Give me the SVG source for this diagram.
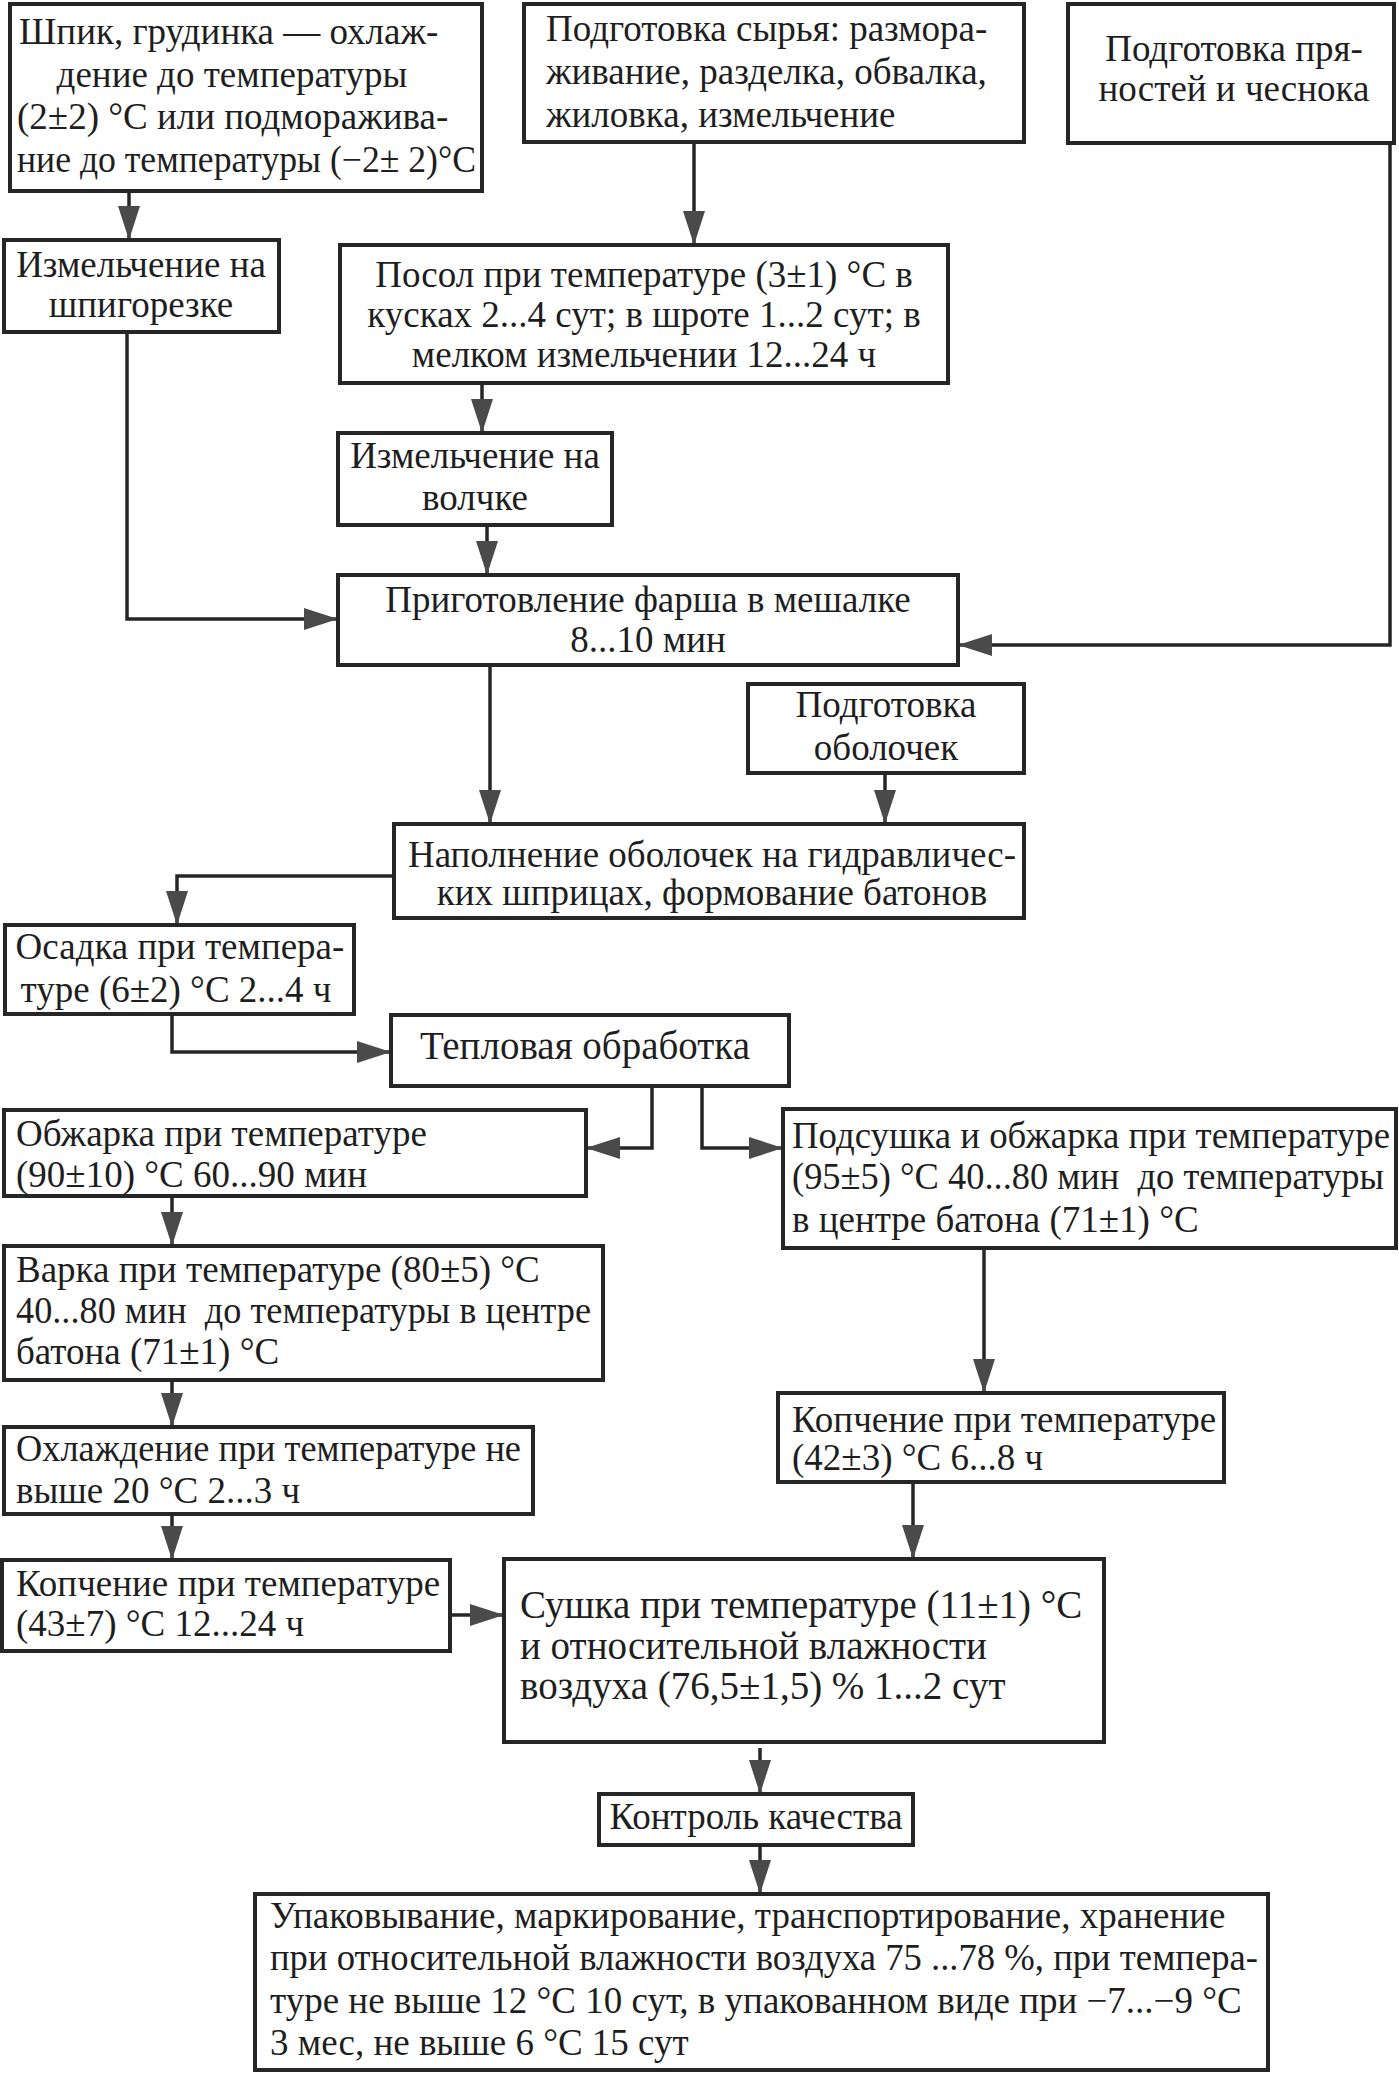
<svg xmlns="http://www.w3.org/2000/svg" width="1399" height="2074" viewBox="0 0 1399 2074">
<style>
.b{fill:#fff;stroke:#262626;stroke-width:4}
.t{font-family:"Liberation Serif","Times New Roman",serif;font-size:37px;fill:#1e1e1e}
.L{font-size:39px}
.m{text-anchor:middle}
.c{fill:none;stroke:#262626;stroke-width:3.5;marker-end:url(#ah)}
</style>
<defs>
<marker id="ah" markerUnits="userSpaceOnUse" viewBox="0 0 34 22" refX="34" refY="11" markerWidth="34" markerHeight="22" orient="auto">
<path d="M0,0 L34,11 L0,22 Z" fill="#4a4a4a"/>
</marker>
</defs>
<rect width="1399" height="2074" fill="#fff"/>
<g id="connectors">
<path class="c" d="M129,192 V240"/>
<path class="c" d="M694,142 V245"/>
<path class="c" d="M482,383 V433"/>
<path class="c" d="M487,525 V575"/>
<path class="c" d="M127,332 V619 H338"/>
<path class="c" d="M1390,143 V645 H958"/>
<path class="c" d="M490,665 V824"/>
<path class="c" d="M885,773 V824"/>
<path class="c" d="M394,876 H177 V925"/>
<path class="c" d="M172,1014 V1052 H391"/>
<path class="c" d="M652,1086 V1148 H586"/>
<path class="c" d="M702,1086 V1148 H783"/>
<path class="c" d="M172,1196 V1246"/>
<path class="c" d="M172,1380 V1427"/>
<path class="c" d="M172,1514 V1560"/>
<path class="c" d="M984,1248 V1393"/>
<path class="c" d="M913,1482 V1559"/>
<path class="c" d="M450,1615 H504"/>
<path class="c" d="M760,1748 V1794"/>
<path class="c" d="M760,1845 V1894"/>
</g>
<g id="nA"><rect class="b" x="10" y="4" width="472" height="187"/>
<text class="t" x="19" y="44">Шпик, грудинка — охлаж-</text>
<text class="t m" x="232" y="87">дение до температуры</text>
<text class="t" x="17" y="129">(2±2) °C или подморажива-</text>
<text class="t" x="17" y="172" textLength="459" lengthAdjust="spacingAndGlyphs">ние до температуры (−2± 2)°C</text></g>
<g id="nB"><rect class="b" x="524" y="4" width="500" height="138"/>
<text class="t" x="546" y="41">Подготовка сырья: размора-</text>
<text class="t" x="546" y="84">живание, разделка, обвалка,</text>
<text class="t" x="546" y="127">жиловка, измельчение</text></g>
<g id="nC"><rect class="b" x="1068" y="4" width="326" height="139"/>
<text class="t m" x="1234" y="61">Подготовка пря-</text>
<text class="t m" x="1234" y="101">ностей и чеснока</text></g>
<g id="nD"><rect class="b" x="4" y="240" width="275" height="92"/>
<text class="t m" x="141" y="277">Измельчение на</text>
<text class="t m" x="141" y="317">шпигорезке</text></g>
<g id="nE"><rect class="b" x="340" y="245" width="608" height="138"/>
<text class="t m" x="644" y="287">Посол при температуре (3±1) °C в</text>
<text class="t m" x="644" y="327">кусках 2...4 сут; в шроте 1...2 сут; в</text>
<text class="t m" x="644" y="367">мелком измельчении 12...24 ч</text></g>
<g id="nF"><rect class="b" x="338" y="433" width="274" height="92"/>
<text class="t m" x="475" y="468">Измельчение на</text>
<text class="t m" x="475" y="510">волчке</text></g>
<g id="nG"><rect class="b" x="338" y="575" width="620" height="90"/>
<text class="t m" x="648" y="612">Приготовление фарша в мешалке</text>
<text class="t m" x="648" y="652">8...10 мин</text></g>
<g id="nH"><rect class="b" x="748" y="684" width="276" height="89"/>
<text class="t m" x="886" y="717">Подготовка</text>
<text class="t m" x="886" y="760">оболочек</text></g>
<g id="nI"><rect class="b" x="394" y="824" width="630" height="94"/>
<text class="t m" x="712" y="867">Наполнение оболочек на гидравличес-</text>
<text class="t m" x="712" y="905">ких шприцах, формование батонов</text></g>
<g id="nJ"><rect class="b" x="5" y="925" width="349" height="89"/>
<text class="t m" x="180" y="959">Осадка при темпера-</text>
<text class="t m" x="176" y="1002">туре (6±2) °C 2...4 ч</text></g>
<g id="nK"><rect class="b" x="391" y="1015" width="398" height="71"/>
<text class="t L m" x="585" y="1059">Тепловая обработка</text></g>
<g id="nL"><rect class="b" x="4" y="1110" width="582" height="86"/>
<text class="t" x="16" y="1146">Обжарка при температуре</text>
<text class="t" x="16" y="1187">(90±10) °C 60...90 мин</text></g>
<g id="nM"><rect class="b" x="783" y="1109" width="613" height="139"/>
<text class="t" x="792" y="1148" textLength="598" lengthAdjust="spacingAndGlyphs">Подсушка и обжарка при температуре</text>
<text class="t" x="792" y="1189" xml:space="preserve" textLength="592" lengthAdjust="spacingAndGlyphs">(95±5) °C 40...80 мин  до температуры</text>
<text class="t" x="792" y="1232">в центре батона (71±1) °C</text></g>
<g id="nN"><rect class="b" x="4" y="1246" width="599" height="134"/>
<text class="t" x="16" y="1282">Варка при температуре (80±5) °C</text>
<text class="t" x="16" y="1323" xml:space="preserve" textLength="575" lengthAdjust="spacingAndGlyphs">40...80 мин  до температуры в центре</text>
<text class="t" x="16" y="1364">батона (71±1) °C</text></g>
<g id="nO"><rect class="b" x="4" y="1427" width="529" height="87"/>
<text class="t" x="16" y="1461" textLength="505" lengthAdjust="spacingAndGlyphs">Охлаждение при температуре не</text>
<text class="t" x="16" y="1503">выше 20 °C 2...3 ч</text></g>
<g id="nP"><rect class="b" x="2" y="1560" width="448" height="91"/>
<text class="t" x="16" y="1596">Копчение при температуре</text>
<text class="t" x="16" y="1636">(43±7) °C 12...24 ч</text></g>
<g id="nQ"><rect class="b" x="778" y="1393" width="446" height="89"/>
<text class="t" x="792" y="1432">Копчение при температуре</text>
<text class="t" x="792" y="1470">(42±3) °C 6...8 ч</text></g>
<g id="nR"><rect class="b" x="504" y="1559" width="600" height="183"/>
<text class="t L" x="520" y="1618">Сушка при температуре (11±1) °C</text>
<text class="t L" x="520" y="1659">и относительной влажности</text>
<text class="t L" x="520" y="1699">воздуха (76,5±1,5) % 1...2 сут</text></g>
<g id="nS"><rect class="b" x="599" y="1794" width="314" height="51"/>
<text class="t m" x="756" y="1829">Контроль качества</text></g>
<g id="nT"><rect class="b" x="255" y="1894" width="1013" height="176"/>
<text class="t" x="270" y="1928">Упаковывание, маркирование, транспортирование, хранение</text>
<text class="t" x="270" y="1970" textLength="988" lengthAdjust="spacingAndGlyphs">при относительной влажности воздуха 75 ...78 %, при темпера-</text>
<text class="t" x="270" y="2013">туре не выше 12 °C 10 сут, в упакованном виде при −7...−9 °C</text>
<text class="t" x="270" y="2055">3 мес, не выше 6 °C 15 сут</text></g>
</svg>
